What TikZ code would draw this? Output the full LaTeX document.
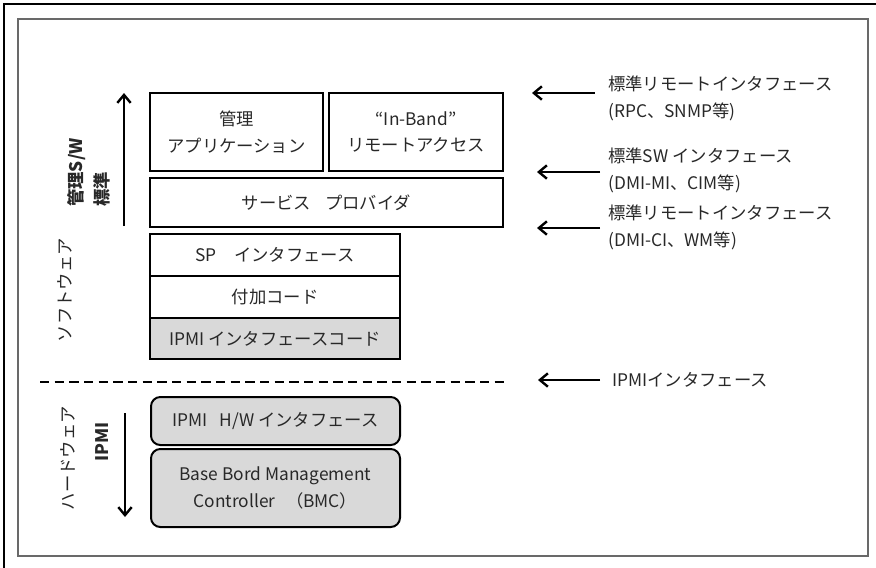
\documentclass[tikz,border=0pt]{standalone}
\usepackage{fontspec}
\setmainfont{Noto Sans CJK JP}
\usetikzlibrary{arrows.meta}
\definecolor{boxgray}{RGB}{217,217,217}
\definecolor{framegray}{RGB}{105,105,105}
\definecolor{txt}{RGB}{40,40,40}
\begin{document}
\begin{tikzpicture}[x=0.75pt,y=-0.75pt,
  every node/.style={font=\fontsize{13}{20}\selectfont, text=txt},
  box/.style={draw=black, line width=1.5pt, align=center, inner sep=0pt},
  gbox/.style={box, fill=boxgray},
  rbox/.style={gbox, rounded corners=7pt},
  arr/.style={line width=1.8pt, -{Straight Barb[length=6pt,width=10pt]}},
  side/.style={rotate=90, inner sep=0pt},
  note/.style={anchor=west, align=left, inner sep=0pt}]
\useasboundingbox (0,0) rectangle (876,568);
% frames
\draw[black, line width=1.2pt] (876,4) -- (4,4) -- (4,568);
\draw[framegray, line width=1.6pt] (18,19) rectangle (868,556);
% software stack
\node[box, minimum width=129.75pt, minimum height=58.5pt] (app) at (236.5,132) {管理\\アプリケーション};
\node[box, minimum width=130.5pt, minimum height=58.5pt] (inband) at (416,132) {“In-Band”\\リモートアクセス};
\node[box, minimum width=264.75pt, minimum height=36.75pt] (prov) at (326.5,202.5) {サービス\hspace{0.8em}プロバイダ};
\node[box, minimum width=187.5pt, minimum height=31.5pt] (spif) at (275,255) {SP\hspace{1em}インタフェース};
\node[box, minimum width=187.5pt, minimum height=31.5pt] (add) at (275,297) {付加コード};
\node[gbox, minimum width=187.5pt, minimum height=30.75pt] (ipmicode) at (275,338.5) {IPMI インタフェースコード};
% hardware
\node[rbox, minimum width=186.75pt, minimum height=36pt] (hwif) at (275.5,421) {IPMI\hspace{0.7em}H/W インタフェース};
\node[rbox, minimum width=186.75pt, minimum height=58.5pt] (bmc) at (275.5,488) {Base Bord Management\\Controller\hspace{0.6em}（BMC）};
% side labels
\node[side, anchor=west, font=\fontsize{13}{20}\selectfont\bfseries] (kanri) at (77,207) {管理S/W};
\node[side, anchor=west, font=\fontsize{13}{20}\selectfont\bfseries] (hyojun) at (102,207) {標準};
\node[side] (soft) at (65,290) {ソフトウェア};
\node[side] (hard) at (68,458) {ハードウェア};
\node[side, font=\fontsize{13}{20}\selectfont\bfseries] (ipmilbl) at (102,442) {IPMI};
% vertical arrows
\coordinate (upS) at (124,226);
\coordinate (upE) at (124,93);
\coordinate (dnS) at (125,413);
\coordinate (dnE) at (125,517);
\draw[arr] (upS) -- (upE);
\draw[arr] (dnS) -- (dnE);
% dashed boundary
\coordinate (dl) at (40,382);
\coordinate (dr) at (508,382);
\draw[line width=1.6pt, dash pattern=on 7pt off 4pt] (dl) -- (dr);
% right notes
\node[note] (n1) at (608,98.5) {標準リモートインタフェース\\(RPC、SNMP等)};
\node[note] (n2) at (608,170.5) {標準SW インタフェース\\(DMI-MI、CIM等)};
\node[note] (n3) at (608,227.5) {標準リモートインタフェース\\(DMI-CI、WM等)};
\node[note] (n4) at (612,380) {IPMIインタフェース};
\coordinate (a1) at (532,93);
\coordinate (a2) at (537,172);
\coordinate (a3) at (537,228);
\coordinate (a4) at (538,380);
\draw[arr] ([xshift=-10pt]n1.west |- a1) -- (a1);
\draw[arr] ([xshift=-6pt]n2.west |- a2) -- (a2);
\draw[arr] ([xshift=-6pt]n3.west |- a3) -- (a3);
\draw[arr] ([xshift=-9pt]n4.west |- a4) -- (a4);
\end{tikzpicture}
\end{document}
